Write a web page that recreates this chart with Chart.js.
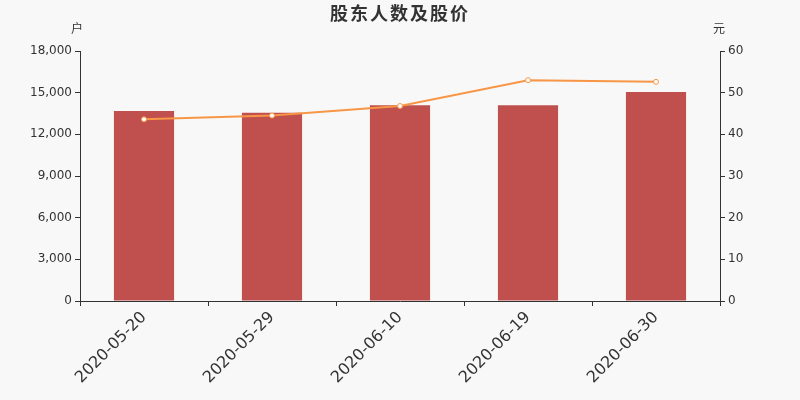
<!DOCTYPE html>
<html>
<head>
<meta charset="utf-8">
<script src="https://cdn.jsdelivr.net/npm/chart.js@4/dist/chart.umd.min.js"></script>
<style>
    html, body { margin: 0; padding: 0; background: #f8f8f8; }
    #wrap { width: 800px; height: 400px; position: relative; }
</style>
</head>
<body>
<div id="wrap"><canvas id="chart" width="800" height="400"></canvas></div>
<script>
// chart data
const dates = ['2020-05-20', '2020-05-29', '2020-06-10', '2020-06-19', '2020-06-30'];
const holders = [13680, 13560, 14100, 14100, 15050];
const prices = [43.6, 44.5, 46.8, 53.0, 52.6];
const holderTicks = [0, 3000, 6000, 9000, 12000, 15000, 18000];
const priceTicks = [0, 10, 20, 30, 40, 50, 60];

const titleText = '股东人数及股价';
const leftUnit = '户';
const rightUnit = '元';

const textColor = '#333333';
const fontFamily = '"DejaVu Sans", sans-serif';

// draws title and axis unit labels
const extraText = {
    id: 'extraText',
    afterDraw(chart) {
        const ctx = chart.ctx;
        const area = chart.chartArea;
        ctx.save();
        ctx.fillStyle = textColor;
        ctx.textBaseline = 'middle';
        ctx.textAlign = 'center';
        ctx.font = 'bold 18px "Noto Sans CJK SC", sans-serif';
        if ('letterSpacing' in ctx) ctx.letterSpacing = '2px';
        ctx.fillText(titleText, 400, 13);
        if ('letterSpacing' in ctx) ctx.letterSpacing = '0px';
        ctx.font = '12px "Noto Sans CJK SC", sans-serif';
        ctx.fillText(leftUnit, area.left - 3, 28);
        ctx.fillText(rightUnit, area.right - 1, 28);
        ctx.restore();
    }
};

function fixedTicks(values) {
    return function (scale) {
        scale.ticks = values.map(v => ({ value: v }));
    };
}

new Chart(document.getElementById('chart'), {
    type: 'bar',
    data: {
        labels: dates,
        datasets: [
            {
                type: 'line',
                label: '股价',
                data: prices,
                yAxisID: 'y1',
                borderColor: '#f79646',
                borderWidth: 2,
                pointRadius: 2.5,
                pointBorderWidth: 1,
                pointBackgroundColor: '#ffffff',
                pointBorderColor: '#f79646',
                tension: 0,
                order: 0
            },
            {
                label: '股东人数',
                data: holders,
                yAxisID: 'y',
                backgroundColor: '#c0504d',
                barPercentage: 0.47,
                categoryPercentage: 1,
                order: 1
            }
        ]
    },
    options: {
        responsive: false,
        animation: false,
        layout: { padding: { top: 51, left: 0, right: 0, bottom: 0 } },
        plugins: {
            legend: { display: false },
            tooltip: { enabled: false }
        },
        scales: {
            x: {
                offset: true,
                grid: { display: true, drawOnChartArea: false, offset: true, tickLength: 5, color: textColor },
                border: { display: true, color: textColor, width: 1 },
                ticks: {
                    color: textColor,
                    font: { family: fontFamily, size: 16 },
                    minRotation: 45,
                    maxRotation: 45,
                    padding: 2
                },
                afterFit(scale) { scale.height = 99; }
            },
            y: {
                position: 'left',
                min: 0,
                max: 18000,
                afterBuildTicks: fixedTicks(holderTicks),
                grid: { display: true, drawOnChartArea: false, tickLength: 5, color: textColor },
                border: { display: true, color: textColor, width: 1 },
                ticks: {
                    color: textColor,
                    font: { family: fontFamily, size: 12 },
                    padding: 3,
                    callback: v => v.toLocaleString('en-US')
                },
                afterFit(scale) { scale.width = 80; }
            },
            y1: {
                position: 'right',
                min: 0,
                max: 60,
                afterBuildTicks: fixedTicks(priceTicks),
                grid: { display: true, drawOnChartArea: false, tickLength: 5, color: textColor },
                border: { display: true, color: textColor, width: 1 },
                ticks: {
                    color: textColor,
                    font: { family: fontFamily, size: 12 },
                    padding: 3
                },
                afterFit(scale) { scale.width = 80; }
            }
        }
    },
    plugins: [extraText]
});
</script>
</body>
</html>
